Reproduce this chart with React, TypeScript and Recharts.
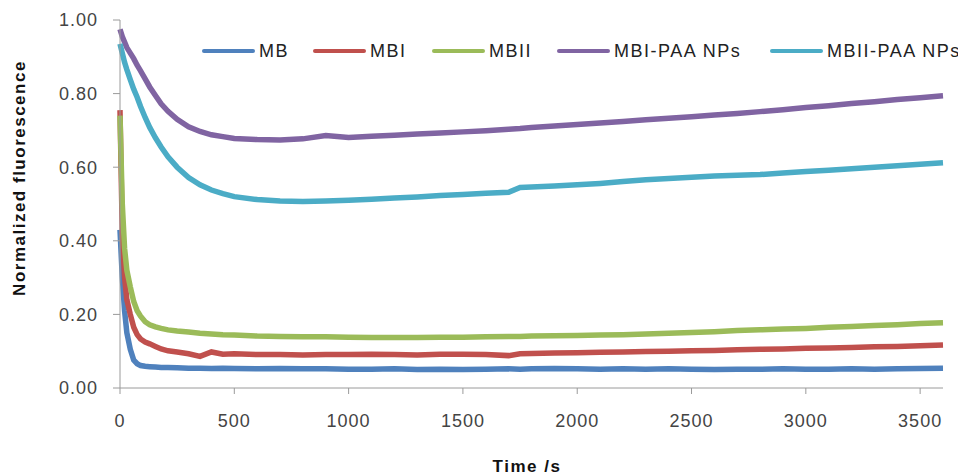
import React from "react";
import { LineChart, Line, XAxis, YAxis } from "recharts";

// time points (s)
const times = [
  0, 10, 20, 30, 45, 60, 75, 90, 110, 130, 155, 180, 210, 250, 300, 350, 400,
  450, 500, 600, 700, 800, 900, 1000, 1100, 1200, 1300, 1400, 1500, 1600, 1700,
  1750, 1800, 1900, 2000, 2100, 2200, 2300, 2400, 2500, 2600, 2700, 2800, 2900,
  3000, 3100, 3200, 3300, 3400, 3500, 3600,
];

const mb = [
  0.43, 0.3, 0.21, 0.15, 0.105, 0.076, 0.066, 0.061, 0.059, 0.058, 0.057, 0.056,
  0.056, 0.055, 0.054, 0.054, 0.053, 0.054, 0.053, 0.052, 0.053, 0.052, 0.052,
  0.051, 0.051, 0.052, 0.05, 0.051, 0.05, 0.051, 0.052, 0.051, 0.052, 0.053,
  0.052, 0.051, 0.052, 0.051, 0.052, 0.051, 0.05, 0.051, 0.051, 0.052, 0.051,
  0.051, 0.052, 0.051, 0.052, 0.053, 0.054,
];

const mbi = [
  0.755, 0.42, 0.3, 0.24, 0.2, 0.165, 0.145, 0.133, 0.125, 0.12, 0.113, 0.106,
  0.101, 0.098, 0.093, 0.086, 0.098, 0.092, 0.093, 0.091, 0.091, 0.09, 0.091,
  0.091, 0.092, 0.091, 0.09, 0.092, 0.092, 0.091, 0.088, 0.093, 0.094, 0.095,
  0.096, 0.097, 0.098, 0.099, 0.1, 0.101, 0.102, 0.104, 0.105, 0.106, 0.108,
  0.109, 0.11, 0.112, 0.113, 0.115, 0.117,
];

const mbii = [
  0.74, 0.5, 0.38, 0.32, 0.275, 0.235, 0.21, 0.195, 0.18, 0.172, 0.166, 0.162,
  0.158, 0.155, 0.152, 0.149, 0.147, 0.145, 0.144, 0.141, 0.14, 0.139, 0.139,
  0.138, 0.137, 0.137, 0.137, 0.138, 0.138, 0.139, 0.14, 0.14, 0.141, 0.142,
  0.143, 0.144, 0.145, 0.147, 0.149, 0.151, 0.153, 0.156, 0.158, 0.16, 0.162,
  0.165, 0.167, 0.17, 0.172, 0.175, 0.177,
];

const mbiPaa = [
  0.975, 0.955, 0.94, 0.925, 0.91, 0.895, 0.877, 0.862, 0.84, 0.818, 0.795,
  0.772, 0.752, 0.73, 0.71, 0.697, 0.688, 0.683, 0.678, 0.675, 0.674, 0.677,
  0.686, 0.681, 0.684, 0.687, 0.69, 0.693, 0.696, 0.699, 0.703, 0.705, 0.708,
  0.712, 0.716, 0.72, 0.724, 0.729, 0.733, 0.737, 0.742, 0.746, 0.751, 0.756,
  0.762, 0.767, 0.773, 0.778, 0.784, 0.789, 0.794,
];

const mbiiPaa = [
  0.935, 0.91, 0.885, 0.865, 0.838, 0.812, 0.79, 0.765, 0.735, 0.708, 0.68,
  0.655, 0.628, 0.6, 0.572, 0.552, 0.538, 0.528, 0.52, 0.512, 0.508, 0.507,
  0.508, 0.51, 0.513, 0.516, 0.519, 0.523, 0.526, 0.529, 0.532, 0.545, 0.546,
  0.549, 0.552, 0.556, 0.561, 0.566, 0.569, 0.573, 0.576, 0.578, 0.58, 0.584,
  0.588, 0.592, 0.596, 0.6, 0.604, 0.608, 0.612,
];

const xTicks = [0, 500, 1000, 1500, 2000, 2500, 3000, 3500];
const yTicks = [0, 0.2, 0.4, 0.6, 0.8, 1.0];

const series = [
  { key: "MB", color: "#4F81BD", values: mb, legendLeft: 194 },
  { key: "MBI", color: "#C0504D", values: mbi, legendLeft: 305 },
  { key: "MBII", color: "#9BBB59", values: mbii, legendLeft: 424 },
  { key: "MBI-PAA NPs", color: "#8064A2", values: mbiPaa, legendLeft: 549 },
  { key: "MBII-PAA NPs", color: "#4BACC6", values: mbiiPaa, legendLeft: 762 },
];

const data = times.map((t, i) => {
  const row: { [k: string]: number } = { t };
  series.forEach((s) => {
    row[s.key] = s.values[i];
  });
  return row;
});

const FONT = '"Liberation Sans", Arial, sans-serif';
const AXIS = "#9a9a9a";

const tickStyle = {
  fontFamily: FONT,
  fontSize: 18,
  fill: "#444",
  letterSpacing: 1,
};

const App = () => {
  return (
    <div style={{ position: "relative", width: 958, height: 467 }}>
      <LineChart
        width={958}
        height={467}
        data={data}
        margin={{ top: 12, right: 23, left: 0, bottom: 27 }}
      >
        <XAxis
          dataKey="t"
          type="number"
          domain={[0, 3600]}
          ticks={xTicks}
          interval={0}
          stroke={AXIS}
          tickSize={6}
          tickMargin={20}
          height={60}
          tick={tickStyle}
          label={() => (
            <text
              x={519}
              y={458}
              textAnchor="middle"
              dominantBaseline="central"
              fontFamily={FONT}
              fontSize={17}
              fontWeight="bold"
              letterSpacing={1.5}
              fill="#111"
            >
              Time /s
            </text>
          )}
        />
        <YAxis
          type="number"
          domain={[0, 1]}
          ticks={yTicks}
          interval={0}
          width={112}
          stroke={AXIS}
          tickSize={7}
          tickMargin={15}
          tick={tickStyle}
          tickFormatter={(v: number) => v.toFixed(2)}
          label={() => (
            <text
              x={11}
              y={170}
              textAnchor="middle"
              dominantBaseline="central"
              transform="rotate(-90 11 170)"
              fontFamily={FONT}
              fontSize={17}
              fontWeight="bold"
              letterSpacing={1.5}
              fill="#111"
            >
              Normalized fluorescence
            </text>
          )}
        />
        {series.map((s) => (
          <Line
            key={s.key}
            type="linear"
            dataKey={s.key}
            stroke={s.color}
            strokeWidth={5.5}
            dot={false}
            isAnimationActive={false}
          />
        ))}
      </LineChart>
      {series.map((s) => (
        <div
          key={s.key}
          style={{
            position: "absolute",
            left: s.legendLeft,
            top: 32,
            height: 22,
            display: "flex",
            alignItems: "center",
            whiteSpace: "nowrap",
          }}
        >
          <span
            style={{
              display: "inline-block",
              width: 53,
              height: 4,
              borderRadius: 2,
              background: s.color,
            }}
          />
          <span
            style={{
              marginLeft: 4,
              fontFamily: FONT,
              fontSize: 18,
              letterSpacing: 1.5,
              color: "#222",
            }}
          >
            {s.key}
          </span>
        </div>
      ))}
    </div>
  );
};

export default App;
